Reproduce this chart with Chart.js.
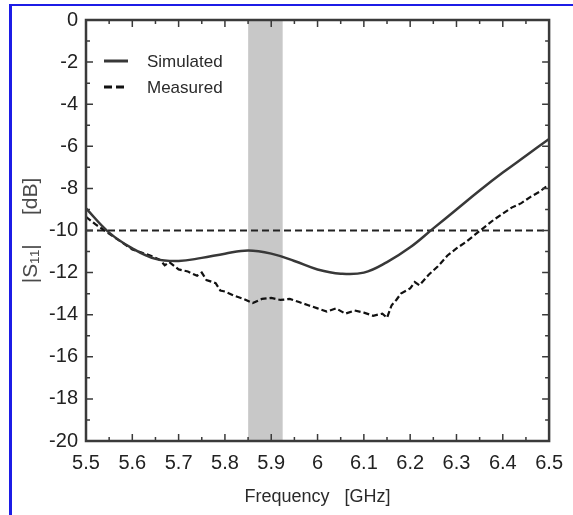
<!DOCTYPE html>
<html>
<head>
<meta charset="utf-8">
<script src="https://cdn.jsdelivr.net/npm/chart.js@4/dist/chart.umd.min.js"></script>
<style>
  body { margin: 0; background: #fff; }
  #wrap { position: relative; width: 573px; height: 515px; }
  #frame { position: absolute; left: 9px; top: 4px; right: 0; bottom: 0;
           border-top: 2px solid #1c1ce6; border-left: 3px solid #1c1ce6; pointer-events: none; }
  canvas { position: absolute; left: 0; top: 0; }
</style>
</head>
<body>
<div id="wrap">
  <canvas id="s11Chart" width="573" height="515"></canvas>
  <div id="frame"></div>
</div>
<script>
// |S11| vs frequency, simulated vs measured

const xTicks = [5.5, 5.6, 5.7, 5.8, 5.9, 6.0, 6.1, 6.2, 6.3, 6.4, 6.5];
const yTicks = [-20, -18, -16, -14, -12, -10, -8, -6, -4, -2, 0];

const simFreq = [5.50, 5.55, 5.60, 5.65, 5.70, 5.75, 5.80, 5.85, 5.90, 5.95, 6.00,
                 6.05, 6.10, 6.15, 6.20, 6.25, 6.30, 6.35, 6.40, 6.45, 6.50];
const simulated = [-8.95, -10.1, -10.85, -11.35, -11.45, -11.3, -11.1, -10.95, -11.1, -11.45, -11.85,
                   -12.05, -12.0, -11.5, -10.8, -9.9, -9.0, -8.1, -7.25, -6.45, -5.65];

const measFreq = [5.50, 5.52, 5.54, 5.56, 5.58, 5.60, 5.62, 5.64, 5.66, 5.67, 5.68,
                  5.70, 5.72, 5.74, 5.75, 5.76, 5.78, 5.79, 5.80, 5.82, 5.84,
                  5.86, 5.88, 5.90, 5.92, 5.94, 5.96, 5.98, 6.00, 6.02, 6.04,
                  6.06, 6.08, 6.10, 6.12, 6.14, 6.15, 6.16, 6.17, 6.18, 6.20,
                  6.21, 6.22, 6.24, 6.26, 6.28, 6.30, 6.32, 6.34, 6.36, 6.38,
                  6.40, 6.42, 6.44, 6.46, 6.48, 6.50];
const measured = [-9.35, -9.7, -10.0, -10.3, -10.6, -10.9, -11.05, -11.2, -11.4, -11.65, -11.5,
                  -11.85, -11.95, -12.15, -12.0, -12.35, -12.5, -12.85, -12.9, -13.1, -13.25,
                  -13.45, -13.25, -13.2, -13.3, -13.25, -13.4, -13.55, -13.7, -13.85, -13.7,
                  -13.95, -13.8, -13.9, -14.05, -13.95, -14.15, -13.55, -13.3, -13.0, -12.75,
                  -12.45, -12.6, -12.1, -11.7, -11.2, -10.85, -10.55, -10.2, -9.85, -9.5,
                  -9.2, -8.9, -8.7, -8.4, -8.15, -7.8];

const threshold = -10;
const band = [5.85, 5.925];

const AXIS_COLOR = '#3a3a3a';
const SANS = "'Liberation Sans', Arial, Helvetica, sans-serif";

// inward ticks (major + minor) on all four sides, plus the box frame
const frameTicks = {
    id: 'frameTicks',
    afterDraw(chart) {
        const {ctx, chartArea: a, scales: {x, y}} = chart;
        ctx.save();
        ctx.strokeStyle = AXIS_COLOR;
        ctx.lineWidth = 1.5;
        ctx.beginPath();
        for (let i = 0; i <= 20; i++) {
            const v = 5.5 + i * 0.05;
            const px = x.getPixelForValue(v);
            const len = i % 2 === 0 ? 7 : 4;
            ctx.moveTo(px, a.bottom); ctx.lineTo(px, a.bottom - len);
            ctx.moveTo(px, a.top); ctx.lineTo(px, a.top + len);
        }
        for (let v = -20; v <= 0; v++) {
            const py = y.getPixelForValue(v);
            const len = v % 2 === 0 ? 7 : 4;
            ctx.moveTo(a.left, py); ctx.lineTo(a.left + len, py);
            ctx.moveTo(a.right, py); ctx.lineTo(a.right - len, py);
        }
        ctx.stroke();
        ctx.lineWidth = 2.5;
        ctx.strokeRect(a.left, a.top, a.right - a.left, a.bottom - a.top);
        ctx.restore();
    }
};

// legend in the upper-left corner of the plot
const cornerLegend = {
    id: 'cornerLegend',
    afterDraw(chart) {
        const {ctx, chartArea: a} = chart;
        const items = [chart.data.datasets[0], chart.data.datasets[1]];
        ctx.save();
        items.forEach((ds, i) => {
            const yy = a.top + 41 + i * 26;
            ctx.strokeStyle = ds.borderColor;
            ctx.lineWidth = 3;
            ctx.setLineDash(i === 1 ? [8, 4] : []);
            ctx.beginPath();
            ctx.moveTo(a.left + 18, yy);
            ctx.lineTo(a.left + 42, yy);
            ctx.stroke();
            ctx.setLineDash([]);
            ctx.fillStyle = '#2a2a2a';
            ctx.font = '17px ' + SANS;
            ctx.textBaseline = 'middle';
            ctx.fillText(ds.label, a.left + 61, yy + 1);
        });
        ctx.restore();
    }
};

function toPoints(xs, ys) {
    return xs.map((v, i) => ({x: v, y: ys[i]}));
}

new Chart(document.getElementById('s11Chart'), {
    type: 'line',
    data: {
        datasets: [
            {
                label: 'Simulated',
                data: toPoints(simFreq, simulated),
                borderColor: '#383838',
                borderWidth: 2.5,
                tension: 0.4,
                pointRadius: 0,
                fill: false,
                order: 0
            },
            {
                label: 'Measured',
                data: toPoints(measFreq, measured),
                borderColor: '#111',
                borderWidth: 2.2,
                borderDash: [6, 3],
                tension: 0,
                pointRadius: 0,
                fill: false,
                order: 1
            },
            {
                label: 'threshold',
                data: toPoints([5.5, 6.5], [threshold, threshold]),
                borderColor: '#222',
                borderWidth: 2,
                borderDash: [7, 4],
                pointRadius: 0,
                fill: false,
                order: 2
            },
            {
                label: 'band',
                data: toPoints(band, [-20, -20]),
                borderWidth: 0,
                borderColor: 'rgba(0,0,0,0)',
                backgroundColor: '#c8c8c8',
                pointRadius: 0,
                fill: 'end',
                order: 5
            }
        ]
    },
    options: {
        responsive: false,
        animation: false,
        layout: {
            padding: {top: 20, right: 21, left: 0, bottom: 0}
        },
        plugins: {
            legend: {display: false},
            tooltip: {enabled: false}
        },
        scales: {
            x: {
                type: 'linear',
                min: 5.5,
                max: 6.5,
                afterBuildTicks: scale => {
                    scale.ticks = xTicks.map(v => ({value: v}));
                },
                afterFit: scale => { scale.height = 74; },
                grid: {display: false, drawTicks: false},
                border: {display: false},
                ticks: {
                    color: '#222',
                    padding: 10,
                    maxRotation: 0,
                    font: {family: SANS, size: 20},
                    callback: v => String(Math.round(v * 10) / 10)
                },
                title: {
                    display: true,
                    text: 'Frequency   [GHz]',
                    color: '#2a2a2a',
                    padding: {top: 0, bottom: 7},
                    font: {family: SANS, size: 18}
                }
            },
            y: {
                min: -20,
                max: 0,
                afterBuildTicks: scale => {
                    scale.ticks = yTicks.map(v => ({value: v}));
                },
                afterFit: scale => { scale.width = 86; },
                grid: {display: false, drawTicks: false},
                border: {display: false},
                ticks: {
                    color: '#222',
                    padding: 8,
                    font: {family: SANS, size: 20},
                    callback: v => String(v)
                },
                title: {
                    display: true,
                    text: '|S\u2081\u2081|     [dB]',
                    color: '#4a4a4a',
                    padding: {top: 19, bottom: 0},
                    font: {family: SANS, size: 21}
                }
            }
        }
    },
    plugins: [frameTicks, cornerLegend]
});
</script>
</body>
</html>
